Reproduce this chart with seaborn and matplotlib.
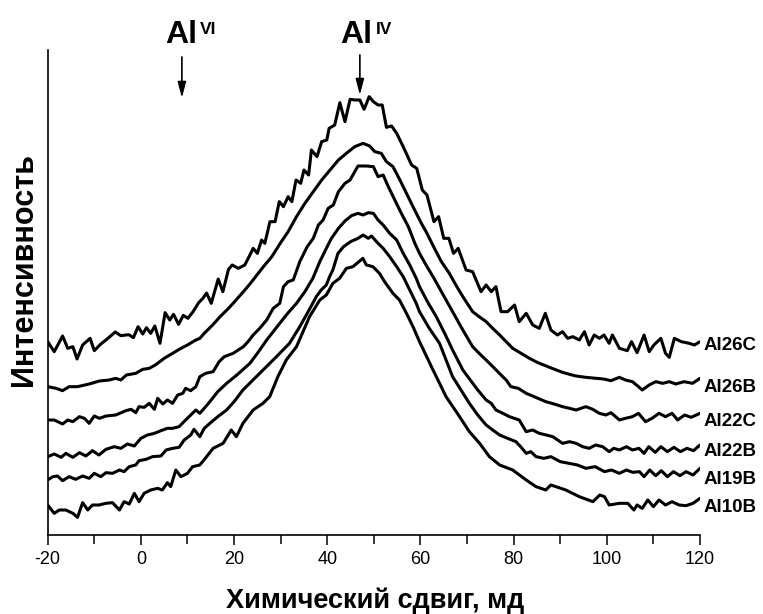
import numpy as np
import pandas as pd
import matplotlib
matplotlib.use("Agg")
import matplotlib.pyplot as plt
import seaborn as sns

# ---------------- data (ppm, intensity in arbitrary units, curves already stacked) ----------------
AL26C_PPM = [-20, -18.6, -16.8, -15.7, -14.6, -13.7, -12.5, -10.9, -10.0, -8.6, -7.5, -5.5, -4.3, -2.6, -1.6,
             -0.6, 0.4, 1.2, 2.1, 3.0, 4.1, 5.2, 6.2, 7.0, 8.1, 9.1, 10.1, 11.2, 12.4, 13.3, 14.1, 15.1,
             16.6, 17.6, 18.8, 19.6, 20.9, 22.3, 23.4, 24.1, 25.0, 25.9, 26.6, 27.7, 28.8, 29.7, 30.6,
             31.6, 32.4, 33.3, 34.3, 35.0, 36.0, 36.6, 37.8, 38.8, 39.9, 40.4, 41.6, 42.7, 43.8, 44.9,
             46.0, 47.0, 47.9, 49.0, 49.9, 50.9, 51.8, 52.7, 53.8, 54.9, 56.3, 58.1, 59.2, 60.4, 61.4,
             62.9, 63.9, 65.0, 66.1, 67.1, 68.1, 69.8, 71.2, 73.0, 74.1, 75.2, 76.2, 77.3, 78.7, 80.2,
             81.2, 82.7, 84.1, 85.5, 86.8, 88.0, 89.4, 90.5, 91.6, 92.7, 94.1, 95.2, 96.2, 97.3, 98.4,
             99.4, 100.5, 101.2, 102.7, 104.4, 105.3, 106.5, 108.0, 109.1, 110.1, 111.6, 112.6, 113.4,
             114.5, 116.0, 117.7, 118.8, 120.0]
AL26C_INT = [58.0, 55.0, 59.7, 56.0, 56.5, 52.8, 57.0, 59.0, 55.3, 57.3, 58.5, 60.9, 59.8, 60.1, 59.2,
             62.5, 60.3, 62.2, 60.5, 62.7, 57.5, 66.7, 64.5, 66.2, 63.2, 65.9, 65.0, 67.0, 69.7, 71.0, 72.6, 69.5,
             76.8, 73.0, 79.7, 81.0, 80.0, 81.0, 84.0, 86.0, 84.5, 88.5, 87.5, 94.0, 94.0, 100.0, 98.5,
             101.5, 100.0, 106.5, 105.5, 109.5, 108.0, 115.5, 113.5, 118.0, 118.5, 122.0, 123.0, 129.7, 124.0, 130.7,
             130.5, 130.5, 127.7, 131.5, 130.0, 129.0, 129.0, 122.3, 122.7, 120.5, 116.5, 111.0, 110.0, 103.5, 102.0,
             94.0, 95.5, 89.0, 89.0, 84.5, 86.0, 79.5, 79.0, 73.0, 75.0, 73.0, 74.5, 67.0, 67.0, 69.0,
             64.0, 66.5, 63.0, 62.0, 66.5, 61.5, 60.0, 61.0, 59.0, 59.5, 58.5, 61.0, 57.0, 60.0, 59.0,
             60.0, 57.5, 60.0, 56.0, 55.3, 58.0, 54.7, 60.0, 55.0, 57.0, 59.0, 54.5, 53.3,
             59.0, 58.0, 57.5, 57.0, 58.0]

AL26B_PPM = [-20, -18.2, -16.8, -15.4, -13.6, -11.1, -8.9, -6.8, -5.4, -4.3, -3.1, -1.1, 0.4, 1.8, 3.1, 5.0,
             6.8, 8.6, 10.0, 11.8, 12.65, 13.6, 15.4, 17.0, 18.6, 19.8, 22.0, 23.4, 24.9, 26.3, 28.1, 29.9,
             31.6, 33.4, 35.2, 37.0, 38.8, 40.6, 42.4, 44.1, 45.9, 47.7, 49.1, 50.2, 51.6, 52.7, 54.1, 55.6,
             57.0, 58.4, 60.2, 61.4, 63.0, 64.5, 66.2, 67.6, 69.1, 71.2, 72.6, 74.1, 75.5, 77.0, 78.4, 79.8,
             81.6, 83.4, 85.2, 87.0, 88.8, 90.5, 92.0, 93.4, 95.5, 97.7, 99.3, 100.9, 102.7, 104.0, 105.5,
             106.8, 107.6, 109.1, 110.5, 112.0, 113.4, 114.8, 116.6, 118.4, 120.0]
AL26B_INT = [44.5, 44.0, 43.3, 44.5, 44.5, 45.3, 46.2, 46.5, 47.0, 46.5, 48.0, 48.5, 49.7, 50.0, 51.0, 53.0,
             54.5, 56.0, 57.0, 58.5, 59.0, 60.5, 63.0, 65.5, 67.7, 69.5, 73.0, 75.3, 78.0, 80.5, 83.5, 87.5,
             91.0, 95.5, 99.5, 103.0, 106.5, 109.5, 112.5, 114.5, 116.5, 117.5, 116.7, 115.0, 114.5, 112.0, 110.5, 106.5,
             102.5, 98.5, 93.5, 90.5, 86.0, 82.0, 78.5, 75.0, 71.5, 67.0, 65.5, 64.0, 62.0, 60.0, 58.0, 56.0,
             54.5, 53.0, 51.7, 50.7, 49.7, 48.8, 48.2, 47.7, 47.3, 47.0, 46.8, 46.3, 47.3, 46.5, 46.0,
             44.5, 43.5, 45.0, 46.0, 45.5, 46.0, 45.3, 46.0, 45.5, 47.0]

AL22C_PPM = [-20, -18.6, -16.8, -15.7, -14.6, -13.2, -12.1, -11.1, -10.0, -8.9, -7.5, -5.4, -3.2, -2.1, -1.1,
             -0.4, 0.7, 1.8, 2.9, 3.6, 4.7, 5.7, 6.8, 7.9, 9.0, 9.6, 10.7, 11.8, 12.65, 13.9, 15.5, 16.8,
             17.9, 19.8, 22.0, 23.0, 24.1, 25.5, 27.0, 28.4, 29.8, 30.6, 31.6, 32.7, 34.1, 35.7, 37.0, 38.1,
             39.1, 40.2, 41.3, 42.4, 43.8, 44.9, 45.9, 46.6, 48.4, 49.9, 50.9, 52.0, 53.1, 54.5, 55.9, 57.4,
             58.8, 59.8, 61.2, 62.7, 64.1, 65.5, 67.3, 69.1, 71.2, 72.6, 74.1, 75.9, 77.3, 78.4, 79.4, 81.0,
             82.7, 84.4, 86.9, 88.7, 90.5, 92.0, 93.4, 95.5, 97.0, 98.4, 99.8, 100.9, 102.7, 104.0, 105.5,
             106.8, 108.3, 109.7, 111.2, 112.6, 114.0, 115.2, 116.7, 118.1, 120.0]
AL22C_INT = [34.5, 34.5, 33.3, 34.5, 34.0, 35.5, 35.0, 33.5, 35.7, 35.0, 35.7, 36.0, 37.3, 37.7, 36.7,
             38.5, 38.3, 39.5, 37.7, 41.0, 39.3, 40.5, 39.5, 42.0, 42.5, 44.0, 43.3, 44.5, 47.5, 48.5, 49.0, 52.0,
             53.5, 54.5, 56.5, 58.0, 60.0, 62.0, 64.5, 68.0, 69.5, 74.5, 76.0, 76.5, 82.0, 86.5, 89.0, 93.0,
             94.5, 98.0, 99.0, 103.0, 105.5, 106.5, 109.0, 110.7, 110.7, 110.5, 107.5, 108.0, 104.5, 100.5, 96.5, 92.5,
             87.5, 84.5, 81.0, 77.5, 74.0, 70.5, 66.0, 61.5, 56.5, 54.5, 52.5, 50.0, 48.0, 46.5, 44.5, 44.0,
             42.5, 41.5, 40.0, 39.3, 38.5, 38.0, 37.5, 38.5, 37.7, 36.5, 36.0, 36.7, 34.5, 35.0, 35.5,
             36.5, 34.0, 35.0, 36.5, 35.5, 36.5, 34.5, 36.0, 35.3, 36.5]

AL22B_PPM = [-20, -18.6, -17.1, -16.1, -14.6, -13.2, -11.8, -10.4, -9.0, -7.5, -5.7, -4.3, -2.9, -1.4, 0.0,
             1.4, 2.9, 4.3, 5.7, 6.8, 8.2, 9.6, 10.7, 11.8, 12.65, 13.9, 14.8, 16.5, 18.4, 20.6, 23.4, 25.0,
             27.0, 28.4, 29.8, 31.5, 33.4, 35.2, 36.9, 38.4, 39.8, 40.9, 42.4, 43.8, 45.2, 46.6, 47.7, 48.8,
             49.9, 50.9, 52.0, 53.4, 54.9, 56.3, 57.7, 59.1, 59.8, 61.5, 63.4, 65.2, 66.9, 68.0, 69.1, 70.7,
             72.3, 74.1, 75.2, 76.2, 77.7, 79.1, 81.2, 82.7, 84.1, 85.5, 87.0, 88.4, 90.5, 92.0, 93.4, 94.8,
             96.2, 97.6, 99.1, 100.5, 101.5, 102.7, 104.2, 105.5, 106.9, 108.0, 109.0, 110.4, 111.6, 113.0,
             114.4, 115.8, 117.2, 118.6, 120.0]
AL22B_INT = [23.5, 24.3, 23.3, 24.5, 23.3, 24.7, 23.7, 25.3, 24.0, 25.7, 26.5, 26.0, 27.3, 26.7, 29.0,
             30.0, 30.5, 31.3, 32.0, 32.0, 32.5, 34.5, 36.0, 37.5, 36.5, 38.5, 40.0, 43.0, 45.5, 48.0, 51.5, 54.5,
             58.5, 61.0, 63.5, 66.5, 69.5, 73.0, 77.0, 82.0, 86.0, 89.0, 92.0, 94.2, 95.8, 96.5, 96.0, 96.7,
             96.5, 94.5, 93.0, 90.5, 88.5, 84.5, 81.0, 77.0, 74.5, 70.0, 65.5, 60.5, 55.5, 52.5, 49.5, 46.5,
             43.5, 40.5, 39.5, 37.5, 36.5, 35.5, 34.5, 31.0, 31.5, 30.5, 30.0, 29.5, 27.5, 28.0, 27.5, 26.5,
             26.0, 27.0, 26.5, 25.0, 26.0, 25.5, 26.5, 25.5, 26.0, 24.5, 26.5, 24.8, 26.5, 25.0,
             26.3, 25.0, 26.0, 25.3, 27.0]

AL19B_PPM = [-20, -18.9, -17.9, -16.8, -15.4, -14.0, -12.5, -11.1, -10.0, -8.6, -7.5, -6.1, -4.6, -3.6, -2.5,
             -1.1, -0.4, 1.1, 2.5, 4.3, 5.4, 6.8, 8.2, 9.3, 10.7, 11.4, 12.65, 13.6, 14.8, 16.5, 18.4, 20.0,
             21.9, 23.7, 25.5, 27.3, 29.1, 30.5, 31.9, 33.0, 34.1, 35.9, 37.65, 38.7, 39.8, 40.5, 41.2, 42.3,
             43.5, 45.0, 46.6, 47.7, 48.8, 49.5, 50.9, 52.0, 53.4, 54.9, 56.3, 57.7, 59.1, 59.8, 61.9, 64.1,
             65.5, 66.9, 68.7, 70.5, 72.3, 74.1, 75.5, 77.0, 78.7, 80.5, 81.5, 82.7, 83.7, 84.8, 86.5, 88.0,
             90.0, 91.9, 93.7, 95.5, 97.5, 99.5, 101.0, 102.7, 104.2, 105.6, 107.0, 108.0, 109.2, 110.5,
             111.7, 113.0, 114.3, 115.7, 117.0, 118.5, 120.0]
AL19B_INT = [16.5, 17.5, 17.7, 16.3, 17.5, 16.7, 17.7, 17.0, 18.5, 17.5, 18.7, 18.5, 19.5, 19.0, 20.5,
             21.0, 22.3, 22.7, 23.5, 23.7, 25.5, 26.0, 26.3, 28.5, 30.0, 31.7, 29.5, 32.0, 33.5, 35.5, 37.5, 40.0,
             43.5, 46.0, 48.5, 51.0, 53.5, 55.5, 57.5, 60.0, 62.5, 67.0, 71.5, 73.5, 75.0, 77.5, 79.5, 84.5,
             86.5, 88.0, 89.0, 90.0, 89.0, 89.7, 87.5, 86.0, 83.5, 80.5, 77.5, 73.5, 69.5, 67.0, 62.0, 57.5,
             52.5, 47.5, 43.5, 39.5, 36.0, 33.0, 31.5, 30.0, 29.0, 28.0, 26.5, 24.5, 25.0, 23.5, 23.0, 23.5,
             22.0, 21.5, 21.0, 20.0, 20.5, 19.0, 19.5, 18.5, 19.5, 18.8, 19.0, 17.5, 19.5, 17.8,
             19.3, 17.5, 19.0, 17.8, 19.0, 18.0, 20.0]

AL10B_PPM = [-20, -18.6, -17.5, -16.1, -14.6, -13.6, -12.5, -11.4, -10.4, -9.0, -7.5, -6.1, -4.6, -3.6, -2.5,
             -1.4, -0.4, 0.7, 2.1, 3.6, 4.6, 5.7, 6.4, 7.5, 8.6, 10.0, 11.1, 12.65, 14.1, 15.5, 17.65, 19.4,
             20.5, 21.9, 24.1, 26.2, 27.65, 29.4, 31.2, 33.4, 36.2, 38.4, 39.8, 41.2, 42.65, 44.1, 45.5, 47.65,
             48.4, 49.8, 51.2, 52.3, 54.1, 55.5, 57.0, 58.4, 59.8, 62.7, 65.5, 68.4, 70.5, 72.7, 74.8, 77.0,
             79.8, 82.7, 84.8, 86.9, 88.0, 91.2, 94.1, 97.0, 98.5, 99.5, 100.5, 102.7, 104.5, 105.8, 106.5,
             107.6, 108.8, 110.0, 111.2, 112.6, 114.0, 115.5, 117.0, 118.5, 120.0]
AL10B_INT = [9.0, 6.5, 7.5, 7.5, 6.5, 5.3, 9.7, 7.5, 9.0, 9.0, 9.5, 9.7, 7.5, 10.0, 9.3,
             12.5, 10.0, 12.5, 13.5, 14.0, 13.5, 15.7, 14.5, 19.5, 17.5, 18.5, 20.5, 21.0, 23.5, 26.0, 27.5, 31.5,
             29.5, 33.5, 37.5, 39.5, 41.5, 47.5, 52.5, 56.5, 65.5, 70.5, 72.0, 75.5, 77.0, 80.0, 80.5, 83.0,
             81.0, 80.5, 78.5, 76.0, 72.5, 70.5, 66.5, 62.5, 58.0, 49.5, 41.5, 35.5, 31.0, 27.5, 23.5, 21.0,
             19.5, 16.5, 14.5, 13.5, 15.0, 13.5, 11.5, 10.0, 12.0, 11.5, 9.0, 9.5, 9.5, 7.5, 9.0,
             8.0, 10.5, 8.5, 10.5, 9.0, 10.0, 9.0, 8.8, 9.5, 11.0]

SAMPLES = ["Al26C", "Al26B", "Al22C", "Al22B", "Al19B", "Al10B"]
SERIES = {
    "Al26C": (AL26C_PPM, AL26C_INT),
    "Al26B": (AL26B_PPM, AL26B_INT),
    "Al22C": (AL22C_PPM, AL22C_INT),
    "Al22B": (AL22B_PPM, AL22B_INT),
    "Al19B": (AL19B_PPM, AL19B_INT),
    "Al10B": (AL10B_PPM, AL10B_INT),
}
LABEL_Y = [57.0, 44.1, 33.9, 24.9, 16.8, 8.1]   # label anchor heights (same units)
X_TICKS = [-20, 0, 20, 40, 60, 80, 100, 120]

# ---------------- figure ----------------
sns.set_theme(style="ticks")
plt.rcParams["font.family"] = ["Liberation Sans", "DejaVu Sans"]
plt.rcParams["axes.unicode_minus"] = False
plt.rcParams["text.color"] = "black"
plt.rcParams["axes.labelcolor"] = "black"
plt.rcParams["xtick.color"] = "black"
plt.rcParams["xtick.labelcolor"] = "black"
FAM = ["Liberation Sans", "DejaVu Sans"]

W, H = 763, 614
fig = plt.figure(figsize=(W / 100, H / 100), dpi=100)
fig.patch.set_facecolor("white")
ax = fig.add_axes([47.7 / W, 1 - 535 / H, (700 - 47.7) / W, (535 - 50) / H])
ax.set_facecolor("white")

frames = []
for s in SAMPLES:
    p, v = SERIES[s]
    frames.append(pd.DataFrame({"ppm": p, "intensity": v, "sample": s}))
df = pd.concat(frames, ignore_index=True)

for s in SAMPLES:
    sns.lineplot(data=df[df["sample"] == s], x="ppm", y="intensity", ax=ax,
                 color="black", linewidth=2.2, sort=False, estimator=None,
                 legend=False, solid_joinstyle="round", solid_capstyle="round")

ax.set_xlim(-20, 120)
ax.set_ylim(0, 145.5)
ax.set_xticks(X_TICKS)
ax.set_xticklabels([str(t) for t in X_TICKS])
ax.set_xticks(np.arange(-20, 121, 10), minor=True)
ax.set_yticks([])
ax.tick_params(axis="x", which="major", direction="out", length=7, width=1.1,
               labelsize=13, pad=4.8, colors="black")
ax.tick_params(axis="x", which="minor", direction="out", length=6.5, width=1.1, colors="black")
for lbl in ax.get_xticklabels():
    lbl.set_family(FAM)
    lbl.set_color("black")
ax.set_xlabel("")
ax.set_ylabel("")
for side in ["top", "right"]:
    ax.spines[side].set_visible(False)
for side in ["left", "bottom"]:
    ax.spines[side].set_linewidth(1.2)
    ax.spines[side].set_color("black")

# sample labels
for s, ly in zip(SAMPLES, LABEL_Y):
    ax.text(120.8, ly, s, ha="left", va="center", fontsize=13.5, fontweight="bold",
            clip_on=False, family=FAM, color="black")

# axis titles
fig.text(375 / W, 1 - 608 / H, "Химический сдвиг, мд", ha="center", va="baseline",
         fontsize=19.5, fontweight="bold", family=FAM, color="black")
fig.text(24 / W, 1 - 270 / H, "Интенсивность", rotation=90, ha="center", va="center",
         fontsize=22, fontweight="bold", family=FAM, color="black")

# Al(VI) / Al(IV) markers
for x_al, x_sup, sup in [(165, 200, "VI"), (340, 376, "IV")]:
    fig.text(x_al / W, 1 - 43 / H, "Al", ha="left", va="baseline", fontsize=23,
             fontweight="bold", family=FAM, color="black")
    fig.text(x_sup / W, 1 - 22 / H, sup, ha="left", va="top", fontsize=12.5,
             fontweight="bold", family=FAM, color="black")

for x_arrow, y0, y1 in [(8.8, 143.4, 131.1), (47.0, 144.0, 132.0)]:
    ax.annotate("", xy=(x_arrow, y1), xytext=(x_arrow, y0), annotation_clip=False,
                arrowprops=dict(arrowstyle="-|>,head_length=0.95,head_width=0.25",
                                color="black", lw=1.2, shrinkA=0, shrinkB=0,
                                mutation_scale=10))

fig.savefig("out.png", dpi=100, facecolor="white")
